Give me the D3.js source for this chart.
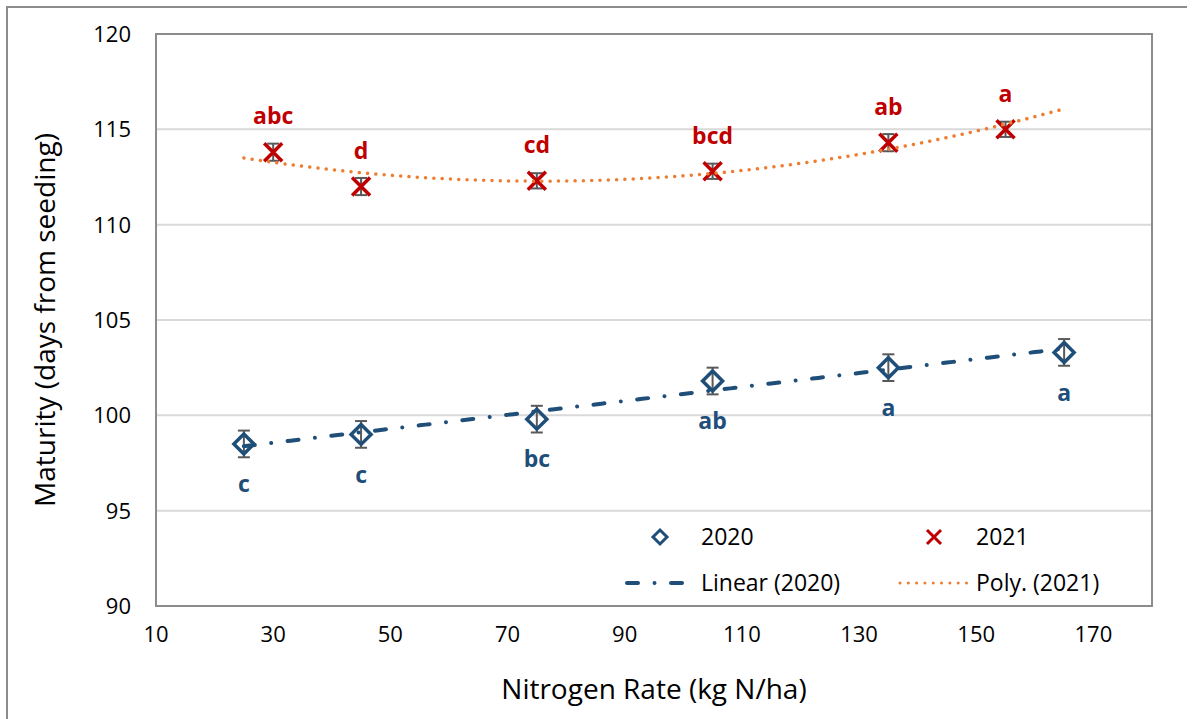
<!DOCTYPE html>
<html>
<head>
<meta charset="utf-8">
<script src="https://cdn.jsdelivr.net/npm/d3@7"></script>
<style>
  html, body { margin: 0; padding: 0; background: #fff; }
  svg { display: block; font-family: "Open Sans", "Noto Sans", sans-serif; }
  .tick-label { font-size: 22px; fill: #000; }
  .axis-title { font-size: 28px; fill: #000; }
  .legend-text { font-size: 23px; fill: #000; }
  .letter { font-size: 23px; font-weight: 700; }
</style>
</head>
<body>
<div id="chart"></div>
<script>
// values
const rates2020 = [25, 45, 75, 105, 135, 165];
const maturity2020 = [98.5, 99.0, 99.8, 101.8, 102.5, 103.3];
const error2020 = [0.7, 0.7, 0.7, 0.7, 0.7, 0.7];
const letters2020 = ["c", "c", "bc", "ab", "a", "a"];

const rates2021 = [30, 45, 75, 105, 135, 155];
const maturity2021 = [113.8, 112.0, 112.3, 112.8, 114.3, 115.0];
const error2021 = [0.45, 0.45, 0.4, 0.4, 0.45, 0.4];
const letters2021 = ["abc", "d", "cd", "bcd", "ab", "a"];

const xTicks = [10, 30, 50, 70, 90, 110, 130, 150, 170];
const yTicks = [90, 95, 100, 105, 110, 115, 120];
const xDomain = [10, 180];
const yDomain = [90, 120];
const trendRange = [25, 165];

const blue = "#1F4E79";
const red = "#C00000";
const orange = "#ED7D31";
const barGray = "#595959";

const width = 1196, height = 719;
const plot = { left: 156, right: 1152, top: 34, bottom: 606 };

const svg = d3.select("#chart").append("svg")
  .attr("width", width)
  .attr("height", height);

// outer chart frame (only left/top edges are in view)
svg.append("path")
  .attr("d", `M7,${height} L7,7 L1187,7`)
  .attr("fill", "none")
  .attr("stroke", "#8c8c8c")
  .attr("stroke-width", 2);

const x = d3.scaleLinear().domain(xDomain).range([plot.left, plot.right]);
const y = d3.scaleLinear().domain(yDomain).range([plot.bottom, plot.top]);

// gridlines
svg.append("g")
  .selectAll("line")
  .data(yTicks.filter((t) => t > yDomain[0] && t < yDomain[1]))
  .join("line")
  .attr("x1", plot.left).attr("x2", plot.right)
  .attr("y1", (d) => y(d)).attr("y2", (d) => y(d))
  .attr("stroke", "#d9d9d9")
  .attr("stroke-width", 2);

// plot frame
svg.append("rect")
  .attr("x", plot.left).attr("y", plot.top)
  .attr("width", plot.right - plot.left)
  .attr("height", plot.bottom - plot.top)
  .attr("fill", "none")
  .attr("stroke", "#8c8c8c")
  .attr("stroke-width", 2);

// tick labels
svg.append("g")
  .selectAll("text")
  .data(yTicks)
  .join("text")
  .attr("class", "tick-label")
  .attr("x", 131)
  .attr("y", (d) => y(d))
  .attr("dy", "0.36em")
  .attr("text-anchor", "end")
  .text((d) => d);

svg.append("g")
  .selectAll("text")
  .data(xTicks)
  .join("text")
  .attr("class", "tick-label")
  .attr("x", (d) => x(d))
  .attr("y", plot.bottom + 28)
  .attr("dy", "0.36em")
  .attr("text-anchor", "middle")
  .text((d) => d);

// axis titles
svg.append("text")
  .attr("class", "axis-title")
  .attr("transform", `translate(45,${(plot.top + plot.bottom) / 2}) rotate(-90)`)
  .attr("dy", "0.36em")
  .attr("text-anchor", "middle")
  .text("Maturity (days from seeding)");

svg.append("text")
  .attr("class", "axis-title")
  .attr("x", (plot.left + plot.right) / 2)
  .attr("y", 689)
  .attr("dy", "0.36em")
  .attr("text-anchor", "middle")
  .text("Nitrogen Rate (kg N/ha)");

const data2020 = rates2020.map((r, i) => ({ rate: r, value: maturity2020[i], err: error2020[i], letter: letters2020[i] }));
const data2021 = rates2021.map((r, i) => ({ rate: r, value: maturity2021[i], err: error2021[i], letter: letters2021[i] }));

// least squares fits used for the trendlines
function linearFit(xs, ys) {
  const mx = d3.mean(xs), my = d3.mean(ys);
  const sxy = d3.sum(xs, (v, i) => (v - mx) * (ys[i] - my));
  const sxx = d3.sum(xs, (v) => (v - mx) ** 2);
  const b = sxy / sxx;
  return (v) => my - b * mx + b * v;
}

function quadFit(xs, ys) {
  const s = (p) => d3.sum(xs, (v) => v ** p);
  const t = (p) => d3.sum(xs, (v, i) => ys[i] * v ** p);
  const A = [[xs.length, s(1), s(2)], [s(1), s(2), s(3)], [s(2), s(3), s(4)]];
  const B = [t(0), t(1), t(2)];
  // gaussian elimination
  for (let i = 0; i < 3; i++) {
    for (let k = i + 1; k < 3; k++) {
      const f = A[k][i] / A[i][i];
      for (let j = i; j < 3; j++) A[k][j] -= f * A[i][j];
      B[k] -= f * B[i];
    }
  }
  const c = [0, 0, 0];
  for (let i = 2; i >= 0; i--) {
    let sum = B[i];
    for (let j = i + 1; j < 3; j++) sum -= A[i][j] * c[j];
    c[i] = sum / A[i][i];
  }
  return (v) => c[0] + c[1] * v + c[2] * v * v;
}

const lin2020 = linearFit(rates2020, maturity2020);
const poly2021 = quadFit(rates2021, maturity2021);

const line = d3.line().x((d) => x(d[0])).y((d) => y(d[1]));
const steps = d3.range(trendRange[0], trendRange[1] + 0.001, 1);

// error bars
function errorBars(data) {
  const g = svg.append("g")
    .attr("stroke", barGray)
    .attr("stroke-width", 2);
  g.selectAll(".stem")
    .data(data)
    .join("line")
    .attr("x1", (d) => x(d.rate)).attr("x2", (d) => x(d.rate))
    .attr("y1", (d) => y(d.value - d.err)).attr("y2", (d) => y(d.value + d.err));
  g.selectAll(".cap-top")
    .data(data)
    .join("line")
    .attr("x1", (d) => x(d.rate) - 6).attr("x2", (d) => x(d.rate) + 6)
    .attr("y1", (d) => y(d.value + d.err)).attr("y2", (d) => y(d.value + d.err));
  g.selectAll(".cap-bottom")
    .data(data)
    .join("line")
    .attr("x1", (d) => x(d.rate) - 6).attr("x2", (d) => x(d.rate) + 6)
    .attr("y1", (d) => y(d.value - d.err)).attr("y2", (d) => y(d.value - d.err));
}
errorBars(data2020);
errorBars(data2021);

const diamond = "M0,-10L10,0L0,10L-10,0Z";
const cross = "M-9,-9L9,9M-9,9L9,-9";

svg.append("g")
  .selectAll("path")
  .data(data2020)
  .join("path")
  .attr("transform", (d) => `translate(${x(d.rate)},${y(d.value)})`)
  .attr("d", diamond)
  .attr("fill", "none")
  .attr("stroke", blue)
  .attr("stroke-width", 3.5);

svg.append("g")
  .selectAll("path")
  .data(data2021)
  .join("path")
  .attr("transform", (d) => `translate(${x(d.rate)},${y(d.value)})`)
  .attr("d", cross)
  .attr("fill", "none")
  .attr("stroke", red)
  .attr("stroke-width", 3.5);

// trendlines
svg.append("path")
  .datum(steps.map((v) => [v, lin2020(v)]))
  .attr("d", line)
  .attr("fill", "none")
  .attr("stroke", blue)
  .attr("stroke-width", 4)
  .attr("stroke-linecap", "round")
  .attr("stroke-dasharray", "11 16.5 0.01 16.5");

svg.append("path")
  .datum(steps.map((v) => [v, poly2021(v)]))
  .attr("d", line)
  .attr("fill", "none")
  .attr("stroke", orange)
  .attr("stroke-width", 3.5)
  .attr("stroke-linecap", "round")
  .attr("stroke-dasharray", "0.01 8.3");

// significance letters
svg.append("g")
  .selectAll("text")
  .data(data2020)
  .join("text")
  .attr("class", "letter")
  .attr("fill", blue)
  .attr("x", (d) => x(d.rate))
  .attr("y", (d) => y(d.value) + 40)
  .attr("dy", "0.36em")
  .attr("text-anchor", "middle")
  .text((d) => d.letter);

svg.append("g")
  .selectAll("text")
  .data(data2021)
  .join("text")
  .attr("class", "letter")
  .attr("fill", red)
  .attr("x", (d) => x(d.rate))
  .attr("y", (d) => y(d.value) - 36)
  .attr("dy", "0.36em")
  .attr("text-anchor", "middle")
  .text((d) => d.letter);

// legend
const legend = svg.append("g");
legend.append("path")
  .attr("transform", "translate(660,537)")
  .attr("d", "M0,-7L7,0L0,7L-7,0Z")
  .attr("fill", "none")
  .attr("stroke", blue)
  .attr("stroke-width", 3);
legend.append("text").attr("class", "legend-text")
  .attr("x", 701).attr("y", 537).attr("dy", "0.36em").text("2020");

legend.append("path")
  .attr("transform", "translate(934,537)")
  .attr("d", "M-7,-7L7,7M-7,7L7,-7")
  .attr("fill", "none")
  .attr("stroke", red)
  .attr("stroke-width", 3);
legend.append("text").attr("class", "legend-text")
  .attr("x", 976).attr("y", 537).attr("dy", "0.36em").text("2021");

legend.append("line")
  .attr("x1", 627).attr("x2", 684).attr("y1", 583).attr("y2", 583)
  .attr("stroke", blue)
  .attr("stroke-width", 4)
  .attr("stroke-linecap", "round")
  .attr("stroke-dasharray", "11 16.5 0.01 16.5");
legend.append("text").attr("class", "legend-text")
  .attr("x", 701).attr("y", 583).attr("dy", "0.36em").text("Linear (2020)");

legend.append("line")
  .attr("x1", 900).attr("x2", 970).attr("y1", 583).attr("y2", 583)
  .attr("stroke", orange)
  .attr("stroke-width", 3)
  .attr("stroke-linecap", "round")
  .attr("stroke-dasharray", "0.01 8.3");
legend.append("text").attr("class", "legend-text")
  .attr("x", 976).attr("y", 583).attr("dy", "0.36em").text("Poly. (2021)");
</script>
</body>
</html>
